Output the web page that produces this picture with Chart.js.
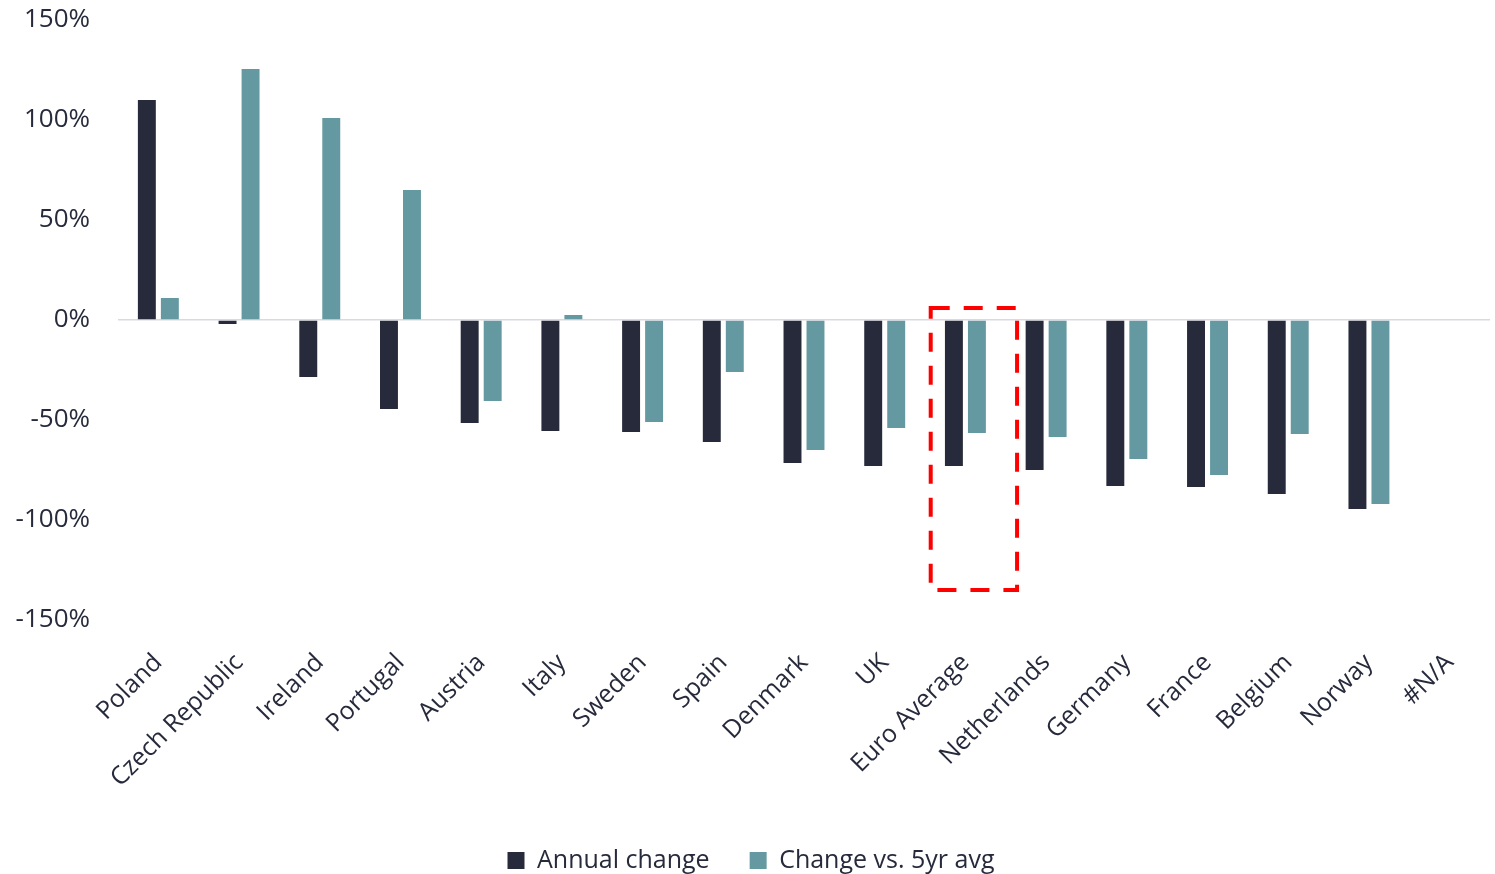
<!DOCTYPE html>
<html>
<head>
  <title>Annual change by country</title>
  <script src="https://cdn.jsdelivr.net/npm/chart.js"></script>
  <style>
    body { margin: 0; background: #fff; }
    .container { width: 1495px; height: 874px; }
  </style>
</head>
<body>
  <div class="container">
    <canvas id="chart" width="1495" height="874"></canvas>
  </div>

  <script>
    // Chart values (percent)
    const countries = ['Poland', 'Czech Republic', 'Ireland', 'Portugal', 'Austria', 'Italy', 'Sweden',
      'Spain', 'Denmark', 'UK', 'Euro Average', 'Netherlands', 'Germany', 'France', 'Belgium', 'Norway', '#N/A'];
    const annualChange = [110, -2, -28.5, -44.5, -51.5, -55.5, -56, -61, -71.5, -73, -73, -75, -83, -83.5, -87, -94.5, null];
    const changeVs5yr = [11, 125.5, 101, 65, -40.5, 2.5, -51, -26, -65, -54, -56.5, -58.5, -69.5, -77.5, -57, -92, null];
    const yTicks = [150, 100, 50, 0, -50, -100, -150];
    const highlightIndex = 10; // Euro Average

    const textColor = '#262a3b';
    const fontFamily = '"Open Sans", "Noto Sans", sans-serif';

    // Dashed red box around the Euro Average bars
    const highlightBox = {
      id: 'highlightBox',
      afterDatasetsDraw(chart) {
        const x = chart.scales.x;
        const y = chart.scales.y;
        const step = x.getPixelForValue(1) - x.getPixelForValue(0);
        const cx = x.getPixelForValue(highlightIndex);
        const left = cx - 0.43 * step;
        const right = cx + 0.64 * step;
        const top = y.getPixelForValue(6);
        const bottom = y.getPixelForValue(-135);
        const c = chart.ctx;
        c.save();
        c.strokeStyle = '#ff0000';
        c.lineWidth = 4;
        c.setLineDash([19, 14]);
        c.strokeRect(left, top, right - left, bottom - top);
        c.restore();
      }
    };

    new Chart(document.getElementById('chart').getContext('2d'), {
      type: 'bar',
      data: {
        labels: countries,
        datasets: [
          {
            label: 'Annual change',
            data: annualChange,
            backgroundColor: '#262a3b',
            categoryPercentage: 0.57,
            barPercentage: 0.78
          },
          {
            label: 'Change vs. 5yr avg',
            data: changeVs5yr,
            backgroundColor: '#6499a1',
            categoryPercentage: 0.57,
            barPercentage: 0.78
          }
        ]
      },
      options: {
        responsive: false,
        animation: false,
        layout: { padding: { left: 12, right: 5, top: 20, bottom: -9 } },
        plugins: {
          tooltip: { enabled: false },
          legend: {
            position: 'bottom',
            labels: {
              color: textColor,
              font: { family: fontFamily, size: 25 },
              boxWidth: 17,
              boxHeight: 17,
              padding: 40
            }
          }
        },
        scales: {
          x: {
            grid: { display: false },
            border: { display: false },
            afterFit(axis) {
              // keep rotated labels from pushing the plot area around
              axis.height = 188;
              axis.paddingLeft = 0;
              axis.paddingRight = 0;
            },
            ticks: {
              color: textColor,
              font: { family: fontFamily, size: 25 },
              minRotation: 45,
              maxRotation: 45,
              autoSkip: false,
              padding: 20
            }
          },
          y: {
            min: -150,
            max: 150,
            afterBuildTicks(axis) {
              axis.ticks = yTicks.map(v => ({ value: v }));
            },
            afterFit(axis) {
              axis.width = 106;
              axis.paddingTop = 0;
              axis.paddingBottom = 0;
            },
            border: { display: false },
            grid: {
              drawTicks: false,
              lineWidth: 1.5,
              color: ctx => (ctx.tick && ctx.tick.value === 0 ? '#d9d9e3' : 'transparent')
            },
            ticks: {
              color: textColor,
              font: { family: fontFamily, size: 26 },
              padding: 28,
              callback: v => v + '%'
            }
          }
        }
      },
      plugins: [highlightBox]
    });
  </script>
</body>
</html>
